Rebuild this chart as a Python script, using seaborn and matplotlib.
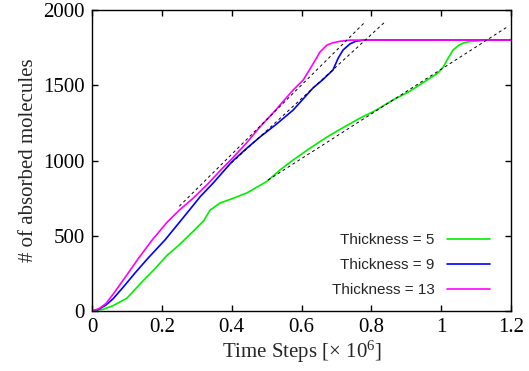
import numpy as np
import pandas as pd
import matplotlib
matplotlib.use("Agg")
import matplotlib.pyplot as plt
import seaborn as sns

# time steps in units of 1e6
t5 = [0, 0.03, 0.06, 0.1, 0.146, 0.18, 0.215, 0.25, 0.29, 0.32, 0.338, 0.367, 0.4,
      0.444, 0.5, 0.54, 0.576, 0.62, 0.673, 0.72, 0.768, 0.81, 0.862, 0.91, 0.96,
      0.99, 1.006, 1.02, 1.034, 1.05, 1.063, 1.08, 1.103, 1.13, 1.2]
n5 = [0, 10, 35, 85, 200, 280, 370, 440, 530, 600, 670, 718, 745,
      785, 860, 940, 1003, 1075, 1156, 1220, 1282, 1330, 1402, 1460, 1535,
      1580, 1621, 1680, 1734, 1765, 1780, 1790, 1795, 1800, 1800]

t9 = [0, 0.02, 0.04, 0.06, 0.09, 0.123, 0.16, 0.209, 0.24, 0.272, 0.31, 0.347, 0.4,
      0.44, 0.481, 0.53, 0.576, 0.633, 0.66, 0.69, 0.705, 0.719, 0.739, 0.755,
      0.776, 1.2]
n9 = [0, 12, 40, 80, 160, 252, 350, 472, 560, 651, 760, 850, 990,
      1075, 1156, 1245, 1335, 1482, 1535, 1601, 1680, 1734, 1775, 1792,
      1800, 1800]

t13 = [0, 0.02, 0.04, 0.06, 0.08, 0.1, 0.13, 0.17, 0.215, 0.25, 0.29, 0.33, 0.37,
       0.4, 0.44, 0.481, 0.52, 0.576, 0.605, 0.63, 0.653, 0.673, 0.69, 0.71, 0.74, 1.2]
n13 = [0, 15, 50, 110, 175, 240, 340, 465, 590, 670, 750, 840, 940,
       1010, 1110, 1223, 1320, 1468, 1535, 1630, 1721, 1767, 1782, 1792, 1800, 1800]

# linear fits (dashed)
fit13_t = [0.25, 0.782]
fit13_n = [696, 1920]
fit9_t = [0.387, 0.842]
fit9_n = [957, 1927]
fit5_t = [0.504, 1.189]
fit5_n = [870, 1887]

labels = ["Thickness = 5", "Thickness = 9", "Thickness = 13"]
colors = ["#00ee00", "#0000ff", "#ff00ff"]

xticks = [0, 0.2, 0.4, 0.6, 0.8, 1.0, 1.2]
xticklabels = ["0", "0.2", "0.4", "0.6", "0.8", "1", "1.2"]
yticks = [0, 500, 1000, 1500, 2000]

df = pd.concat([
    pd.DataFrame({"t": t5, "n": n5, "s": labels[0]}),
    pd.DataFrame({"t": t9, "n": n9, "s": labels[1]}),
    pd.DataFrame({"t": t13, "n": n13, "s": labels[2]}),
])

sns.set_style("ticks")
plt.rcParams["font.family"] = ["Liberation Serif", "DejaVu Serif"]
plt.rcParams["mathtext.fontset"] = "custom"
plt.rcParams["mathtext.rm"] = "Liberation Serif"
plt.rcParams["mathtext.it"] = "Liberation Serif:italic"
plt.rcParams["mathtext.default"] = "rm"

fig = plt.figure(figsize=(5.29, 3.71), dpi=100)
ax = fig.add_axes([92 / 529, 60 / 371, 419 / 529, 301 / 371])

sns.lineplot(data=df, x="t", y="n", hue="s", palette=colors, linewidth=1.2,
             estimator=None, sort=False, ax=ax)

for ft, fn in [(fit13_t, fit13_n), (fit9_t, fit9_n), (fit5_t, fit5_n)]:
    sns.lineplot(x=ft, y=fn, color="black", linestyle=(0, (3, 3)), linewidth=0.7,
                 estimator=None, ax=ax, legend=False)

ax.set_xlim(0, 1.2)
ax.set_ylim(0, 2000)
ax.set_xticks(xticks)
ax.set_xticklabels(xticklabels)
ax.set_yticks(yticks)
ax.tick_params(direction="in", length=4, width=1, top=True, right=True,
               labelsize=15, colors="black", pad=5)
for sp in ax.spines.values():
    sp.set_linewidth(1.0)
    sp.set_color("black")
ax.set_xlabel("Time Steps [\u00d7 10$^6$]", fontsize=15, labelpad=1)
ax.set_ylabel("# of absorbed molecules", fontsize=15, labelpad=4)

leg = ax.legend(loc="lower right", bbox_to_anchor=(0.982, 0.0), frameon=False,
                markerfirst=False, handlelength=2.8, labelspacing=0.72,
                prop={"family": "Liberation Sans", "size": 11})
for h in leg.get_lines():
    h.set_linewidth(1.2)

fig.savefig("out.png", dpi=100)
